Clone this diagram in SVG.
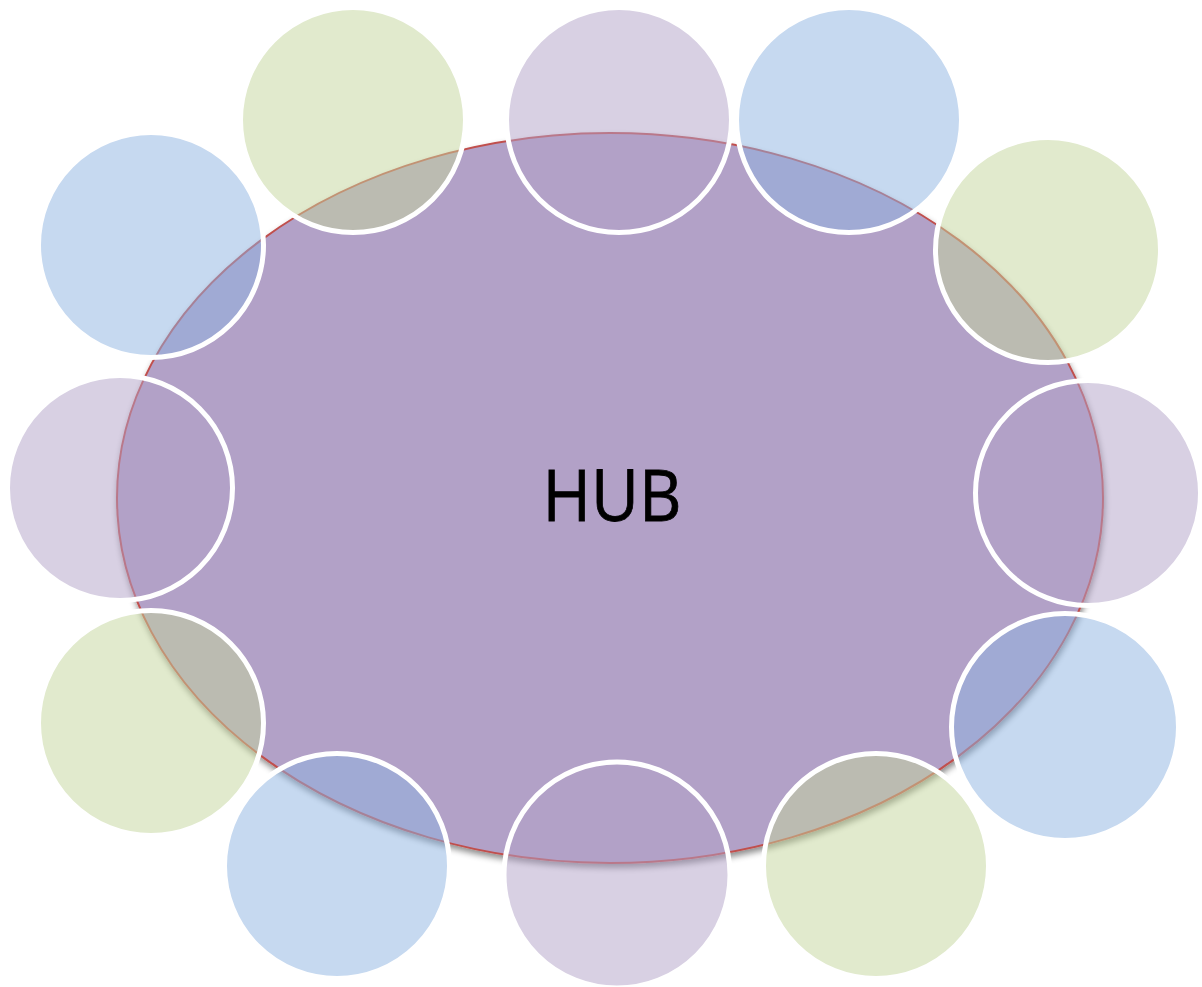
<svg xmlns="http://www.w3.org/2000/svg" width="1202" height="987" viewBox="0 0 1202 987">
<defs>
<filter id="sh" x="-10%" y="-10%" width="120%" height="125%">
<feDropShadow dx="1" dy="4" stdDeviation="3" flood-color="#000" flood-opacity="0.45"/>
</filter>
<style>
.hub{fill:#B2A1C7;stroke:#C0504D;stroke-width:2}
.c{stroke:#FFFFFF;stroke-width:5}
.lav{fill:rgba(178,161,199,0.5)}
.blu{fill:rgba(141,179,226,0.5)}
.grn{fill:rgba(195,214,155,0.5)}
.lbl{font-family:"Open Sans","Noto Sans",sans-serif;font-size:72px;fill:#000}
</style>
</defs>
<rect width="1202" height="987" fill="#FFFFFF"/>
<g id="hub">
<ellipse class="hub" cx="610" cy="498" rx="493" ry="365" filter="url(#sh)"/>
<text class="lbl" x="612" y="521" text-anchor="middle" textLength="139" lengthAdjust="spacingAndGlyphs" stroke="#000" stroke-width="0.8">HUB</text>
</g>
<g id="connectors"></g>
<g id="n1"><circle class="c lav" cx="619" cy="120" r="112.5"/></g>
<g id="n2"><circle class="c blu" cx="849" cy="120" r="112.5"/></g>
<g id="n3"><circle class="c grn" cx="1048" cy="250" r="112.5"/></g>
<g id="n4"><circle class="c lav" cx="1088" cy="493" r="112.5"/></g>
<g id="n5"><circle class="c blu" cx="1065" cy="727" r="113.5"/></g>
<g id="n6"><circle class="c grn" cx="876" cy="866" r="112.5"/></g>
<g id="n7"><circle class="c lav" cx="617" cy="875" r="113"/></g>
<g id="n8"><circle class="c blu" cx="337" cy="866" r="112.5"/></g>
<g id="n9"><circle class="c grn" cx="151" cy="723" r="112.5"/></g>
<g id="n10"><circle class="c lav" cx="120" cy="488" r="112.5"/></g>
<g id="n11"><circle class="c blu" cx="151" cy="245" r="112.5"/></g>
<g id="n12"><circle class="c grn" cx="353" cy="120" r="112.5"/></g>
</svg>
